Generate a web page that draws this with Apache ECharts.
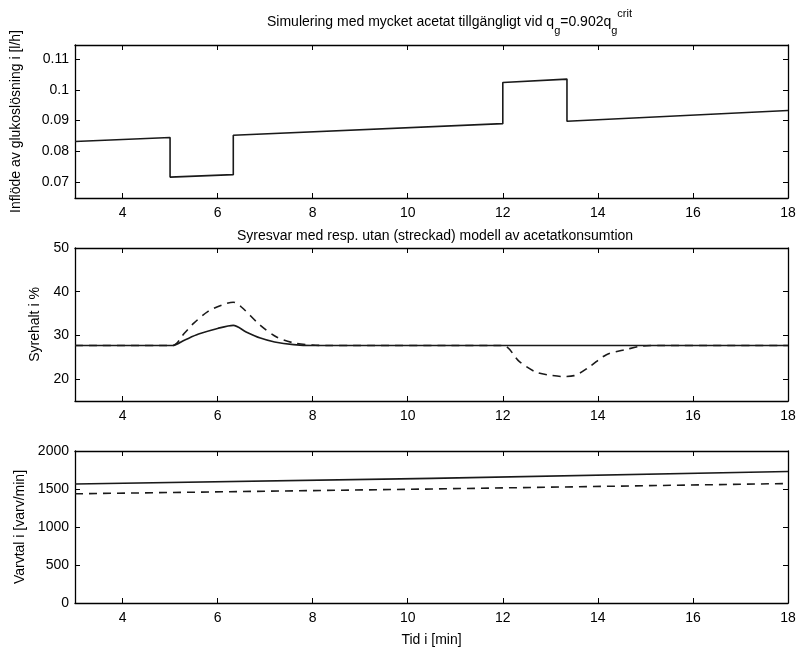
<!DOCTYPE html>
<html>
<head>
<meta charset="utf-8">
<script src="https://cdn.jsdelivr.net/npm/echarts@6/dist/echarts.min.js"></script>
<style>
  html, body { margin: 0; padding: 0; background: #fff; }
  #chart { width: 800px; height: 650px; }
</style>
</head>
<body>
<div id="chart"></div>
<script>
// inflöde (steg), övre panelen
const flowT = [3, 5, 5, 6.33, 6.33, 12, 12, 13.35, 13.35, 18];
const flowV = [0.0832, 0.0845, 0.0716, 0.0724, 0.0852, 0.0890, 0.1024, 0.1035, 0.0898, 0.0933];

// syrehalt, med modell (heldragen)
const o2T = [3, 5.05, 5.3, 5.6, 6.0, 6.33, 6.6, 6.9, 7.2, 7.6, 8.0, 18];
const o2V = [27.7, 27.7, 28.9, 30.3, 31.6, 32.3, 30.8, 29.4, 28.5, 27.9, 27.7, 27.7];

// syrehalt, utan modell (streckad)
const o2dT = [3, 5.05, 5.3, 5.5, 5.8, 6.1, 6.33, 6.5, 6.9, 7.25, 7.6, 8.0, 8.3, 12.0, 12.35, 12.7, 13.0, 13.25, 13.5, 13.82, 14.18, 14.6, 14.95, 15.3, 18];
const o2dV = [27.7, 27.7, 30.5, 32.8, 35.5, 37.0, 37.6, 36.5, 32.3, 29.6, 28.3, 27.8, 27.7, 27.7, 24.0, 21.6, 20.9, 20.6, 20.8, 22.8, 25.6, 26.8, 27.6, 27.7, 27.7];

// varvtal
const rpmT = [3, 10.5, 18];
const rpmV = [1565, 1640, 1730];
const rpmdT = [3, 10.5, 18];
const rpmdV = [1437, 1500, 1572];

const xTicks = [4, 6, 8, 10, 12, 14, 16, 18];
const flowTicks = [0.07, 0.08, 0.09, 0.1, 0.11];
const o2Ticks = [20, 30, 40, 50];
const rpmTicks = [0, 500, 1000, 1500, 2000];

const font = 'Liberation Sans, Arial, sans-serif';
const lineColor = '#1a1a1a';

function zip(a, b) {
    return a.map((v, i) => [v, b[i]]);
}

const grids = [
    { left: 75, right: 12, top: 45, height: 153 },
    { left: 75, right: 12, top: 248, height: 153 },
    { left: 75, right: 12, top: 451, height: 152 }
];

const tick = { show: true, inside: true, length: 5, lineStyle: { color: '#000', width: 1 } };
const axisLine = { show: true, onZero: false, lineStyle: { color: '#000', width: 1.3 } };

const xAxis = [];
const yAxis = [];
[0, 1, 2].forEach((g) => {
    xAxis.push({
        type: 'value', gridIndex: g, min: 3, max: 18, position: 'bottom',
        axisLine: axisLine,
        axisTick: Object.assign({ customValues: xTicks }, tick),
        axisLabel: { customValues: xTicks, color: '#000', fontSize: 14, fontFamily: font, margin: 8 },
        splitLine: { show: false },
        name: g === 2 ? 'Tid i [min]' : '',
        nameLocation: 'middle', nameGap: 30,
        nameTextStyle: { color: '#000', fontSize: 14, fontFamily: font }
    });
    xAxis.push({
        type: 'value', gridIndex: g, min: 3, max: 18, position: 'top',
        axisLine: axisLine,
        axisTick: Object.assign({ customValues: xTicks }, tick),
        axisLabel: { show: false },
        splitLine: { show: false }
    });
});

const yDefs = [
    { min: 0.0648, max: 0.1146, ticks: flowTicks, name: 'Inflöde av glukoslösning i [l/h]', gap: 52 },
    { min: 15, max: 50, ticks: o2Ticks, name: 'Syrehalt i %', gap: 29 },
    { min: 0, max: 2000, ticks: rpmTicks, name: 'Varvtal i [varv/min]', gap: 48 }
];
yDefs.forEach((d, g) => {
    yAxis.push({
        type: 'value', gridIndex: g, min: d.min, max: d.max, position: 'left',
        axisLine: axisLine,
        axisTick: Object.assign({ customValues: d.ticks }, tick),
        axisLabel: {
            customValues: d.ticks, color: '#000', fontSize: 14, fontFamily: font, margin: 6,
            formatter: (v) => String(v)
        },
        splitLine: { show: false },
        name: d.name, nameLocation: 'middle', nameGap: d.gap,
        nameTextStyle: { color: '#000', fontSize: 14, fontFamily: font }
    });
    yAxis.push({
        type: 'value', gridIndex: g, min: d.min, max: d.max, position: 'right',
        axisLine: axisLine,
        axisTick: Object.assign({ customValues: d.ticks }, tick),
        axisLabel: { show: false },
        splitLine: { show: false }
    });
});

function line(x, y, data, dashed, smooth) {
    return {
        type: 'line', xAxisIndex: x, yAxisIndex: y, data: data,
        showSymbol: false, smooth: smooth || false, animation: false,
        lineStyle: { color: lineColor, width: 1.6, type: dashed ? [8, 6] : 'solid' }
    };
}

const chart = echarts.init(document.getElementById('chart'));
chart.setOption({
    backgroundColor: '#fff',
    title: [
        {
            text: 'Simulering med mycket acetat tillgängligt vid q{sub|g}=0.902q{sub|g}{sup|crit}',
            left: 262, top: 3,
            textStyle: {
                fontSize: 14, fontWeight: 'normal', color: '#000', fontFamily: font, lineHeight: 28,
                rich: {
                    sub: { fontSize: 11, fontFamily: font, color: '#000', verticalAlign: 'bottom', lineHeight: 28 },
                    sup: { fontSize: 11, fontFamily: font, color: '#000', verticalAlign: 'top', lineHeight: 28 }
                }
            }
        },
        {
            text: 'Syresvar med resp. utan (streckad) modell av acetatkonsumtion',
            left: 232, top: 224,
            textStyle: { fontSize: 14, fontWeight: 'normal', color: '#000', fontFamily: font }
        }
    ],
    grid: grids,
    xAxis: xAxis,
    yAxis: yAxis,
    series: [
        line(0, 0, zip(flowT, flowV), false, false),
        line(2, 2, zip(o2T, o2V), false, 0.3),
        line(2, 2, zip(o2dT, o2dV), true, 0.3),
        line(4, 4, zip(rpmT, rpmV), false, false),
        line(4, 4, zip(rpmdT, rpmdV), true, false)
    ]
});
</script>
</body>
</html>
